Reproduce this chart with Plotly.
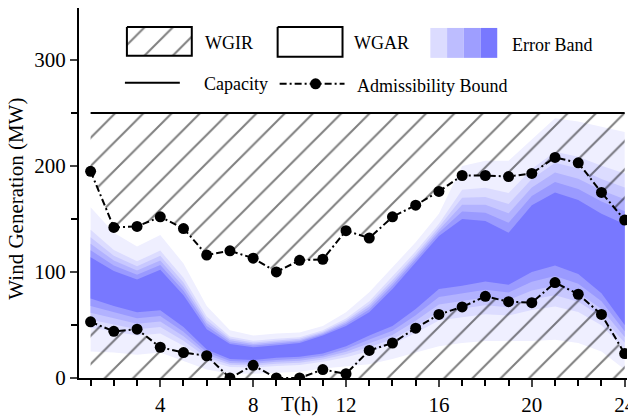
import plotly.graph_objects as go

hours = list(range(1, 25))
upper_bound = [195, 142, 143, 152, 141, 116, 120, 113, 100, 111, 112, 139,
               132, 152, 163, 176, 191, 191, 190, 193, 208, 203, 175, 149]
lower_bound = [53, 44, 46, 29, 24, 21, 0, 12, 0, 0, 8, 4,
               26, 33, 47, 60, 67, 77, 72, 71, 90, 79, 60, 23]
capacity = [250] * 24

# error band: outer and core envelopes
band_outer_hi = [161, 137, 124, 135, 108, 68, 45, 40, 42, 43, 49, 62,
                 81, 105, 128, 155, 200, 205, 205, 225, 245, 242, 237, 232]
band_core_hi = [114, 101, 93, 102, 78, 46, 32, 29, 31, 33, 40, 49,
                62, 84, 109, 134, 150, 148, 137, 163, 175, 168, 155, 145]
band_core_lo = [75, 68, 62, 64, 48, 27, 18, 17, 19, 20, 23, 30,
                40, 49, 65, 84, 87, 91, 88, 100, 106, 98, 80, 50]
band_outer_lo = [25, 24, 22, 24, 16, 8, 4, 4, 5, 6, 9, 11,
                 13, 18, 24, 30, 33, 35, 35, 35, 36, 33, 25, 8]
band_levels = [0, 0.45, 0.6, 0.73, 0.86, 1.0]
band_colors = ['#EFEFFF', '#DCDCFF', '#C8C8FF', '#B2B2FF', '#9A9AFF', '#7878FF']

x_ticks = [4, 8, 12, 16, 20, 24]
y_ticks = [0, 100, 200, 300]

FONT = "Liberation Serif, Times New Roman, Times, serif"
fig = go.Figure()

# error band layers
for f, col in zip(band_levels, band_colors):
    top = [o + (c - o) * f for o, c in zip(band_outer_hi, band_core_hi)]
    bot = [o + (c - o) * f for o, c in zip(band_outer_lo, band_core_lo)]
    fig.add_trace(go.Scatter(x=hours + hours[::-1], y=top + bot[::-1],
                             fill='toself', fillcolor=col, mode='lines',
                             line=dict(width=0), hoverinfo='skip', showlegend=False))

pattern = dict(shape='/', fgcolor='black', bgcolor='rgba(0,0,0,0)', size=20, solidity=0.1)
# WGIR hatch regions
fig.add_trace(go.Scatter(x=hours + hours[::-1], y=upper_bound + capacity[::-1],
                         fill='toself', fillcolor='rgba(0,0,0,0)', fillpattern=pattern,
                         mode='lines', line=dict(width=0), showlegend=False, hoverinfo='skip'))
fig.add_trace(go.Scatter(x=hours + hours[::-1], y=lower_bound + [0] * 24,
                         fill='toself', fillcolor='rgba(0,0,0,0)', fillpattern=pattern,
                         mode='lines', line=dict(width=0), showlegend=False, hoverinfo='skip'))

# capacity
fig.add_trace(go.Scatter(x=hours, y=capacity, mode='lines',
                         line=dict(color='black', width=2), showlegend=False))
# admissibility bounds
DASH = "7px,3px,2px,3px"
for arr in (upper_bound, lower_bound):
    fig.add_trace(go.Scatter(x=hours, y=arr, mode='lines+markers',
                             line=dict(color='black', width=2, dash=DASH),
                             marker=dict(color='black', size=11), showlegend=False))

# ---- custom legend on an overlay axis in screen pixel units ----
def box(x0, x1, y0, y1, **kw):
    fig.add_trace(go.Scatter(x=[x0, x1, x1, x0, x0], y=[y0, y0, y1, y1, y0],
                             xaxis='x2', yaxis='y2', mode='lines', fill='toself',
                             showlegend=False, hoverinfo='skip', **kw))

box(127, 192, 27, 56, fillcolor='rgba(0,0,0,0)', fillpattern=pattern,
    line=dict(color='black', width=2))
box(278, 343, 27, 57, fillcolor='white', line=dict(color='black', width=2))
leg_cols = ['#DCDCFF', '#BDBDFF', '#9E9EFF', '#7878FF']
for i, c in enumerate(leg_cols):
    box(431 + i * 16.75, 431 + (i + 1) * 16.75, 28, 58, fillcolor=c, line=dict(width=0, color=c))
fig.add_trace(go.Scatter(x=[125, 180], y=[83, 83], xaxis='x2', yaxis='y2', mode='lines',
                         line=dict(color='black', width=2), showlegend=False))
fig.add_trace(go.Scatter(x=[280, 345], y=[84, 84], xaxis='x2', yaxis='y2', mode='lines',
                         line=dict(color='black', width=2, dash=DASH), showlegend=False))
fig.add_trace(go.Scatter(x=[316], y=[84], xaxis='x2', yaxis='y2', mode='markers',
                         marker=dict(color='black', size=11), showlegend=False))

leg_text = [("WGIR", 203, 43), ("WGAR", 352, 43), ("Error Band", 511, 45),
            ("Capacity", 202, 84), ("Admissibility Bound", 355, 86)]
ann = []
for t, x, y in leg_text:
    ann.append(dict(text=t, x=x, y=y, xref='x2', yref='y2', xanchor='left', yanchor='middle',
                    showarrow=False, font=dict(family=FONT, size=18, color='black')))
ann.append(dict(text="T(h)", x=10, y=0, xref='x', yref='paper', xanchor='center', yanchor='top',
                yshift=-12, showarrow=False, font=dict(family=FONT, size=21, color='black')))
ann.append(dict(text="Wind Generation (MW)", x=-0.1166, y=0.485, xref='paper', yref='paper',
                textangle=-90, xanchor='center', yanchor='middle', showarrow=False,
                font=dict(family=FONT, size=21, color='black')))

# page body has an 8px margin: figure is 628x409 so it fills the 636x417 window
fig.update_layout(
    width=628, height=409,
    margin=dict(l=71, r=0, t=0, b=38, pad=0),
    paper_bgcolor='white', plot_bgcolor='white',
    font=dict(family=FONT, size=21, color='black'),
    annotations=ann,
    xaxis=dict(range=[0.5, 24.1], tickvals=x_ticks, ticks='outside', ticklen=7, tickwidth=2,
               showline=True, linewidth=2, linecolor='black', showgrid=False, zeroline=False,
               ticklabeloverflow='allow',
               minor=dict(dtick=1, tick0=0, ticks='outside', ticklen=6, tickwidth=2, tickcolor='black'),
               tickfont=dict(family=FONT, size=21)),
    yaxis=dict(range=[0, 349], tickvals=y_ticks, ticks='outside', ticklen=7, tickwidth=2,
               showline=True, linewidth=2, linecolor='black', showgrid=False, zeroline=False,
               minor=dict(dtick=50, tick0=0, ticks='outside', ticklen=6, tickwidth=2, tickcolor='black'),
               tickfont=dict(family=FONT, size=21)),
    xaxis2=dict(range=[79, 628], overlaying='x', visible=False, fixedrange=True),
    yaxis2=dict(range=[379, 8], overlaying='y', visible=False, fixedrange=True),
)

fig.write_html("out.html")
